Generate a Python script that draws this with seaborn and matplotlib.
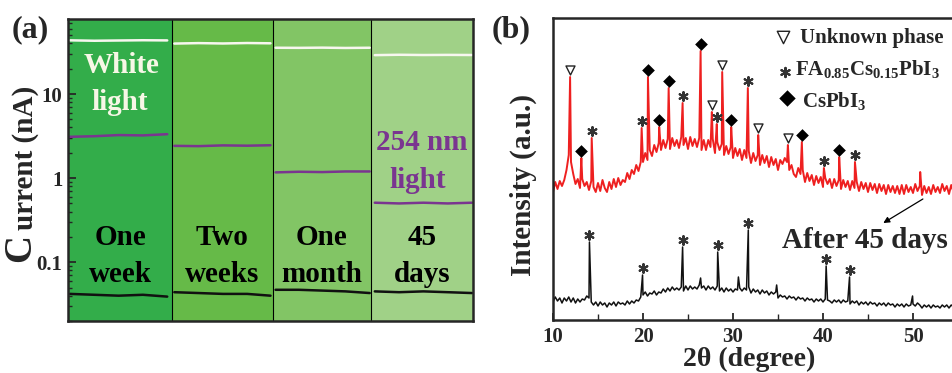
import numpy as np
import pandas as pd
import matplotlib
matplotlib.use("Agg")
import matplotlib.pyplot as plt
import matplotlib.transforms as mtransforms
from matplotlib.ticker import MultipleLocator, NullFormatter, NullLocator
import seaborn as sns

# ---------------- panel (a): photocurrent vs. storage time ----------------
section_names = [("One", "week"), ("Two", "weeks"), ("One", "month"), ("45", "days")]
section_edges = [0, 103, 202, 299, 400]
section_colors = ["#33ad4a", "#66ba48", "#82c565", "#a0d187"]

time_s = [2, 26, 50, 74, 98,
          105, 129, 153, 177, 200,
          205, 228, 251, 274, 298,
          303, 327, 351, 375, 399]
section_id = [0] * 5 + [1] * 5 + [2] * 5 + [3] * 5
white_nA = [43.5, 43.0, 43.3, 43.6, 43.4,
            39.8, 40.3, 39.9, 40.4, 40.1,
            35.5, 35.4, 35.6, 35.3, 35.5,
            29.0, 29.3, 29.1, 29.2, 29.1]
uv_nA = [3.10, 3.15, 3.25, 3.22, 3.33,
         2.42, 2.40, 2.45, 2.43, 2.46,
         1.17, 1.19, 1.18, 1.20, 1.20,
         0.51, 0.50, 0.51, 0.50, 0.51]
dark_nA = [0.042, 0.041, 0.040, 0.041, 0.039,
           0.044, 0.043, 0.042, 0.042, 0.040,
           0.047, 0.047, 0.046, 0.045, 0.043,
           0.045, 0.044, 0.045, 0.044, 0.043]

# ---------------- panel (b): XRD patterns ----------------
two_theta = np.arange(10.0, 56.01, 0.25)
aged_bg = [
    128, 138, 131, 139,  134, 140, 150, 165,  158, 146, 136, 141,  132, 141, 134, 138,
    130, 139, 133, 128,  137, 129, 140, 132,  128, 138, 131, 141,  133, 142, 135, 140,
    138, 147, 141, 150,  146, 155, 149, 158,  158, 167, 160, 170,  164, 175, 168, 177,
    170, 180, 172, 181,  171, 182, 174, 180,  172, 183, 175, 182,  171, 183, 174, 181,
    173, 182, 170, 180,  170, 180, 173, 181,  167, 178, 170, 176,  165, 174, 166, 173,
    162, 172, 164, 171,  160, 170, 162, 169,  157, 167, 159, 165,  155, 165, 157, 164,
    153, 163, 155, 161,  150, 160, 156, 162,  158, 150, 155, 146,  143, 152, 146, 150,
    138, 147, 139, 145,  135, 144, 137, 143,  133, 142, 136, 141,  132, 141, 134, 140,
    131, 140, 133, 139,  130, 139, 132, 138,  129, 138, 131, 137,  128, 137, 130, 136,
    127, 136, 129, 135,  126, 135, 128, 134,  127, 134, 126, 135,  126, 135, 128, 133,
    127, 136, 129, 134,  125, 134, 127, 133,  126, 135, 128, 133,  127, 136, 129, 134,
    126, 135, 128, 134,  127, 135, 129, 134,  131]
fresh_bg = [
    18, 23, 19, 22,  17, 22, 19, 23,  18, 22, 17, 21,  18, 21, 20, 24,
    22, 18, 15, 18,  14, 18, 15, 17,  13, 17, 15, 18,  14, 18, 16, 17,
    15, 19, 16, 19,  17, 20, 19, 23,  25, 28, 24, 27,  26, 29, 25, 28,
    27, 31, 28, 32,  29, 33, 30, 32,  30, 33, 29, 34,  30, 34, 31, 33,
    31, 35, 32, 34,  30, 34, 31, 33,  30, 34, 29, 32,  28, 32, 29, 31,
    28, 31, 30, 32,  29, 32, 30, 33,  27, 31, 28, 30,  26, 30, 27, 29,
    25, 28, 26, 28,  22, 25, 23, 24,  21, 24, 22, 23,  20, 23, 21, 22,
    19, 22, 20, 21,  18, 21, 19, 21,  18, 21, 20, 19,  17, 20, 18, 20,
    17, 20, 18, 19,  16, 19, 17, 19,  15, 18, 16, 18,  15, 18, 16, 17,
    14, 17, 15, 17,  14, 17, 15, 16,  13, 16, 14, 16,  13, 16, 14, 15,
    16, 14, 17, 15,  12, 15, 13, 15,  12, 15, 13, 14,  12, 15, 13, 15,
    12, 15, 13, 14,  12, 15, 13, 14,  14]

aged_peak_pos = [11.9, 13.15, 14.3, 19.85, 20.55, 21.8, 22.85, 24.4, 26.4, 27.65,
                 28.2, 28.8, 29.8, 31.65, 32.8, 36.1, 37.65, 40.1, 41.8, 43.55, 50.8]
aged_peak_int = [243, 162, 182, 192, 243, 193, 232, 217, 269, 208,
                 196, 248, 193, 232, 185, 175, 178, 152, 163, 158, 148]
aged_peak_phase = ["U", "C", "F", "F", "C", "C", "C", "F", "C", "U",
                   "F", "U", "C", "F", "U", "U", "C", "F", "C", "F", ""]

fresh_peak_pos = [14.05, 19.95, 24.4, 26.4, 28.3, 30.6, 31.7, 34.85, 40.35, 42.95, 49.95]
fresh_peak_int = [78, 45, 73, 42, 68, 43, 90, 35, 54, 43, 24]
fresh_peak_phase = ["F", "F", "F", "", "F", "", "F", "", "F", "F", ""]

phase_labels = {"U": "Unknown phase",
                "F": r"FA$_{0.85}$Cs$_{0.15}$PbI$_3$",
                "C": r"CsPbI$_3$"}

# ---------------- style ----------------
sns.set_theme(style="ticks")
plt.rcParams.update({
    "font.family": ["Liberation Serif", "DejaVu Serif"],
    "font.weight": "bold",
    "axes.linewidth": 1.6,
    "mathtext.fontset": "custom",
    "mathtext.rm": "Liberation Serif:bold",
    "mathtext.bf": "Liberation Serif:bold",
    "mathtext.it": "Liberation Serif:bold:italic",
    "mathtext.default": "rm",
    "xtick.direction": "in",
    "ytick.direction": "in",
})

W, H = 952, 373
fig = plt.figure(figsize=(W / 100, H / 100), dpi=100)
fig.patch.set_facecolor("white")


def fx(px):
    return px / W


def fy(py):
    return 1 - py / H


# ===== panel (a) =====
axA = fig.add_axes([fx(68), fy(321), fx(405), 302 / H])
for i, c in enumerate(section_colors):
    axA.axvspan(section_edges[i], section_edges[i + 1], color=c, lw=0, zorder=0)
for e in section_edges[1:-1]:
    axA.axvline(e, color="black", lw=0.8, zorder=1)

frames = []
for light, vals in [("White light", white_nA), ("254 nm light", uv_nA), ("Dark", dark_nA)]:
    frames.append(pd.DataFrame({"time": time_s, "current": vals,
                                "section": section_id, "light": light}))
df_a = pd.concat(frames, ignore_index=True)
sns.lineplot(data=df_a, x="time", y="current", hue="light", units="section",
             estimator=None, sort=True, legend=False, lw=1.8,
             palette={"White light": "#f7f7ef", "254 nm light": "#7a3590", "Dark": "#111111"},
             ax=axA, zorder=3)

axA.set_yscale("log")
axA.set_ylim(0.02, 78)
axA.set_xlim(section_edges[0], section_edges[-1])
axA.set_yticks([0.1, 1, 10])
axA.set_yticklabels(["0.1", "1", "10"])
axA.yaxis.set_minor_formatter(NullFormatter())
axA.xaxis.set_major_locator(NullLocator())
axA.xaxis.set_minor_locator(NullLocator())
axA.tick_params(axis="y", which="major", length=6, width=1.3, labelsize=15, pad=4)
axA.tick_params(axis="y", which="minor", length=3, width=1.0)
axA.set_xlabel("")
axA.set_ylabel("")
for sp in axA.spines.values():
    sp.set_linewidth(1.8)
    sp.set_zorder(5)

blend = mtransforms.blended_transform_factory(axA.transData, axA.transAxes)
txt_kw = dict(fontsize=21, fontweight="bold", ha="center", va="baseline", zorder=4)
for i, (l1, l2) in enumerate(section_names):
    xc = 0.5 * (section_edges[i] + section_edges[i + 1])
    axA.text(xc, 0.252, l1, transform=blend, color="black", **txt_kw)
    axA.text(xc, 0.130, l2, transform=blend, color="black", **txt_kw)
axA.text(0.133, 0.821, "White", transform=axA.transAxes, color="#f7f7e6", **txt_kw)
axA.text(0.128, 0.699, "light", transform=axA.transAxes, color="#f7f7e6", **txt_kw)
axA.text(0.874, 0.566, "254 nm", transform=axA.transAxes, color="#7a3590", **txt_kw)
axA.text(0.864, 0.440, "light", transform=axA.transAxes, color="#7a3590", **txt_kw)

fig.text(fx(12), fy(37), "(a)", fontsize=23, fontweight="bold", va="baseline", ha="left")
fig.text(fx(30), fy(248), "C", fontsize=28, fontweight="bold", rotation=90,
         rotation_mode="anchor", ha="center", va="baseline")
fig.text(fx(33), fy(158), "urrent (nA)", fontsize=21, fontweight="bold", rotation=90,
         rotation_mode="anchor", ha="center", va="baseline")

# ===== panel (b) =====
axB = fig.add_axes([fx(553), fy(320), fx(450), 302 / H])
df_b = pd.concat([
    pd.DataFrame({"two_theta": np.concatenate([two_theta, aged_peak_pos]),
                  "intensity": np.concatenate([aged_bg, aged_peak_int]),
                  "sample": "After 45 days"}),
    pd.DataFrame({"two_theta": np.concatenate([two_theta, fresh_peak_pos]),
                  "intensity": np.concatenate([fresh_bg, fresh_peak_int]),
                  "sample": "Fresh"}),
], ignore_index=True)
sns.lineplot(data=df_b[df_b["sample"] == "After 45 days"], x="two_theta", y="intensity",
             estimator=None, sort=True, legend=False, lw=1.4, color="#ee2020", ax=axB)
sns.lineplot(data=df_b[df_b["sample"] == "Fresh"], x="two_theta", y="intensity",
             estimator=None, sort=True, legend=False, lw=1.1, color="#111111", ax=axB)

marker_style = {
    "U": dict(marker="v", s=42, facecolors="white", edgecolors="#222222", linewidths=1.0),
    "F": dict(marker=(6, 2, 0), s=40, color="#333333", linewidths=1.5),
    "C": dict(marker="D", s=42, color="black", linewidths=0),
}
for pos, top, ph in list(zip(aged_peak_pos, aged_peak_int, aged_peak_phase)) + \
        list(zip(fresh_peak_pos, fresh_peak_int, fresh_peak_phase)):
    if ph:
        axB.scatter([pos], [top + 7], zorder=4, **marker_style[ph])

axB.set_xlim(10, 60)
axB.set_ylim(0, 302)
axB.set_xticks([10, 20, 30, 40, 50])
axB.xaxis.set_minor_locator(MultipleLocator(5))
axB.yaxis.set_major_locator(NullLocator())
axB.yaxis.set_minor_locator(NullLocator())
axB.tick_params(axis="x", which="major", length=5, width=1.3, labelsize=15, pad=5)
axB.tick_params(axis="x", which="minor", length=4, width=1.0)
axB.set_xlabel("")
axB.set_ylabel("")
for sp in axB.spines.values():
    sp.set_linewidth(1.8)

# phase key
key_rows = [("U", 0.937, 0.511, 0.549, 0.917),
            ("F", 0.822, 0.516, 0.538, 0.811),
            ("C", 0.735, 0.520, 0.553, 0.705)]
key_size = {"U": 80, "F": 45, "C": 70}
for ph, ym, xm, xt, yt in key_rows:
    st = dict(marker_style[ph])
    st["s"] = key_size[ph]
    axB.scatter([xm], [ym], transform=axB.transAxes, clip_on=False, zorder=4, **st)
    axB.text(xt, yt, phase_labels[ph], transform=axB.transAxes, fontsize=15,
             fontweight="bold", ha="left", va="baseline")

axB.text(0.509, 0.238, "After 45 days", transform=axB.transAxes, fontsize=21,
         fontweight="bold", ha="left", va="baseline")
axB.annotate("", xy=(46.7, 97), xytext=(51.1, 121),
             arrowprops=dict(arrowstyle="-|>", color="black", lw=0.9,
                             mutation_scale=9, shrinkA=0, shrinkB=0))

fig.text(fx(492), fy(37), "(b)", fontsize=23, fontweight="bold", va="baseline", ha="left")
fig.text(fx(531), fy(185), "Intensity (a.u.)", fontsize=21, fontweight="bold", rotation=90,
         rotation_mode="anchor", ha="center", va="baseline")
fig.text(fx(749), fy(366), "2\u03b8 (degree)", fontsize=20, fontweight="bold",
         ha="center", va="baseline")

fig.savefig("out.png", dpi=100)
